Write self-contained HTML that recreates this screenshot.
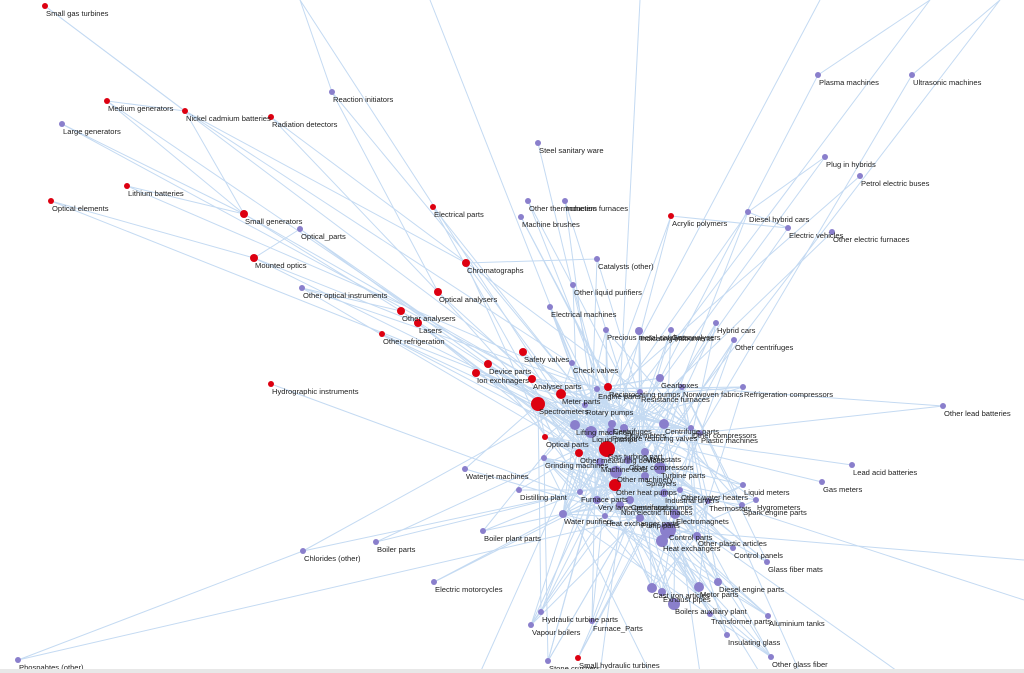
<!DOCTYPE html>
<html><head><meta charset="utf-8"><style>
html,body{margin:0;padding:0;background:#fff;width:1024px;height:673px;overflow:hidden}
svg{display:block}
text{font-family:"Liberation Sans",sans-serif;font-size:7.6px;fill:#222}
</style></head><body>
<svg id="s" width="1024" height="673" viewBox="0 0 1024 673">
<g id="e" stroke="#c4daf2" stroke-width="1" fill="none"></g>
<g id="n"></g>
<rect x="0" y="669" width="1024" height="4" fill="#e8e8e8"/>
</svg>
<script>
var R='#dd0011',P='#8a7fcc';
var N=[
[45,6,3,R,"Small gas turbines"],[107,101,3,R,"Medium generators"],[185,111,3,R,"Nickel cadmium batteries"],[271,117,3,R,"Radiation detectors"],
[62,124,3,P,"Large generators"],[332,92,3,P,"Reaction initiators"],[127,186,3,R,"Lithium batteries"],[51,201,3,R,"Optical elements"],
[244,214,4,R,"Small generators"],[300,229,3,P,"Optical_parts"],[254,258,4,R,"Mounted optics"],[302,288,3,P,"Other optical instruments"],
[433,207,3,R,"Electrical parts"],[466,263,4,R,"Chromatographs"],[438,292,4,R,"Optical analysers"],[401,311,4,R,"Other analysers"],[418,323,4,R,"Lasers"],
[382,334,3,R,"Other refrigeration"],[523,352,4,R,"Safety valves"],[488,364,4,R,"Device parts"],[476,373,4,R,"Ion exchnagers"],[532,379,4,R,"Analyser parts"],
[271,384,3,R,"Hydrographic instruments"],[561,394,5,R,"Meter parts"],[538,404,7,R,"Spectrometers"],[545,437,3,R,"Optical parts"],[607,449,8,R,"Gas turbine part"],
[579,453,4,R,"Other measuring devices"],[615,485,6,R,"Other heat pumps"],[608,387,4,R,"Reciprocating pumps"],[671,216,3,R,"Acrylic polymers"],[578,658,3,R,"Small hydraulic turbines"],
[538,143,3,P,"Steel sanitary ware"],[528,201,3,P,"Other thermometers"],[565,201,3,P,"Induction furnaces"],[521,217,3,P,"Machine brushes"],[597,259,3,P,"Catalysts (other)"],
[573,285,3,P,"Other liquid purifiers"],[550,307,3,P,"Electrical machines"],[818,75,3,P,"Plasma machines"],[912,75,3,P,"Ultrasonic machines"],[825,157,3,P,"Plug in hybrids"],
[860,176,3,P,"Petrol electric buses"],[748,212,3,P,"Diesel hybrid cars"],[788,228,3,P,"Electric vehicles"],[832,232,3,P,"Other electric furnaces"],
[606,330,3,P,"Precious metal catalysts"],[639,331,4,P,"Indicating instruments"],[671,330,3,P,"Gas analysers"],[716,323,3,P,"Hybrid cars"],[734,340,3,P,"Other centrifuges"],
[572,363,3,P,"Check valves"],[660,378,4,P,"Gearboxes"],[682,387,3,P,"Nonwoven fabrics"],[743,387,3,P,"Refrigeration compressors"],[640,392,3,P,"Resistance furnaces"],
[597,389,3,P,"Engine parts"],[585,405,3,P,"Rotary pumps"],[664,424,5,P,"Centrifuge parts"],[943,406,3,P,"Other lead batteries"],[691,428,3,P,"Other compressors"],
[700,433,3,P,"Plastic machines"],[743,485,3,P,"Liquid meters"],[822,482,3,P,"Gas meters"],[852,465,3,P,"Lead acid batteries"],[465,469,3,P,"Waterjet machines"],
[519,490,3,P,"Distilling plant"],[597,500,4,P,"Very large generators"],[580,492,3,P,"Furnace parts"],[563,514,4,P,"Water purifiers"],[483,531,3,P,"Boiler plant parts"],
[376,542,3,P,"Boiler parts"],[303,551,3,P,"Chlorides (other)"],[434,582,3,P,"Electric motorcycles"],[18,660,3,P,"Phospahtes (other)"],[668,530,8,P,"Control parts"],
[662,541,6,P,"Heat exchangers"],[697,536,4,P,"Other plastic articles"],[733,548,3,P,"Control panels"],[767,562,3,P,"Glass fiber mats"],[652,588,5,P,"Cast iron articles"],
[699,587,5,P,"Motor parts"],[718,582,4,P,"Diesel engine parts"],[674,604,6,P,"Boilers auxiliary plant"],[662,592,4,P,"Exhaust pipes"],[541,612,3,P,"Hydraulic turbine parts"],
[531,625,3,P,"Vapour boilers"],[592,621,3,P,"Furnace_Parts"],[768,616,3,P,"Aluminium tanks"],[710,614,3,P,"Transformer parts"],[727,635,3,P,"Insulating glass"],
[771,657,3,P,"Other glass fiber"],[548,661,3,P,"Stone crushers"],[675,514,5,P,"Electromagnets"],[664,493,4,P,"Industrial dryers"],[708,501,3,P,"Thermostats"],
[742,505,3,P,"Spark engine parts"],[756,500,3,P,"Hygrometers"],[620,505,4,P,"Non electric furnaces"],[660,468,6,P,"Turbine parts"],[645,452,4,P,"Manostats"],
[544,458,3,P,"Grinding machines"],[591,432,6,P,"Liquid pumps"],[611,431,4,P,"Pressure reducing valves"],[624,428,4,P,"Flow meters"],[612,424,4,P,"Centrifuges"],
[575,425,5,P,"Lifting machinery"],[616,472,6,P,"Other machinery"],[628,460,4,P,"Other compressors"],[600,462,4,P,"Machine tools"],[645,476,4,P,"Sprayers"],
[680,490,3,P,"Other water heaters"],[630,500,4,P,"Centrifugal pumps"],[605,516,3,P,"Heat exchanger parts"],[640,518,4,P,"Pump parts"]
];
var s=7;function r(){s=(s*16807)%2147483647;return s/2147483647;}
var hubs=[];N.forEach(function(n,i){if(n[0]>530&&n[0]<720&&n[1]>380&&n[1]<560)hubs.push(i);});
var E=[];
N.forEach(function(n,i){var inC=n[0]>520&&n[0]<760&&n[1]>300;var far=n[0]<280||n[1]<200||n[0]>780;var k=inC?3:(far?1:2);for(var j=0;j<k;j++){var h=N[hubs[Math.floor(r()*hubs.length)]];E.push([n[0],n[1],h[0],h[1]]);}});
for(var j=0;j<90;j++){var a=N[hubs[Math.floor(r()*hubs.length)]],b=N[Math.floor(r()*N.length)];if(b[1]>300&&b[0]>450&&b[0]<800)E.push([a[0],a[1],b[0],b[1]]);}
var ext=[[300,0],[430,0],[640,0],[930,0],[1000,0],[820,0],[700,673],[760,673],[800,673],[1024,600],[480,673],[600,673],[650,673],[900,673]];
ext.forEach(function(p){var h=N[hubs[Math.floor(r()*hubs.length)]];E.push([p[0],p[1],h[0],h[1]]);});
E.push([45,6,185,111],[185,111,244,214],[107,101,244,214],[62,124,244,214],[127,186,244,214],[51,201,254,258],[254,258,300,229],[332,92,300,0],[912,75,1000,0],[818,75,930,0],[18,660,303,551],[825,157,748,212],[185,111,466,263],[271,117,438,292],[332,92,438,292],[107,101,185,111],[244,214,401,311],[254,258,418,323],[302,288,401,311],[466,263,597,259],[748,212,788,228],[671,216,788,228],[943,406,700,433],[1024,560,668,530]);
var g=document.getElementById('e'),h='';
E.forEach(function(l){h+='<line x1="'+l[0]+'" y1="'+l[1]+'" x2="'+l[2]+'" y2="'+l[3]+'"/>';});g.innerHTML=h;
var t='';N.forEach(function(n){t+='<circle cx="'+n[0]+'" cy="'+n[1]+'" r="'+n[2]+'" fill="'+n[3]+'"/>';});
N.forEach(function(n){t+='<text x="'+(n[0]+1)+'" y="'+(n[1]+10)+'">'+n[4]+'</text>';});
document.getElementById('n').innerHTML=t;
</script>
</body></html>
